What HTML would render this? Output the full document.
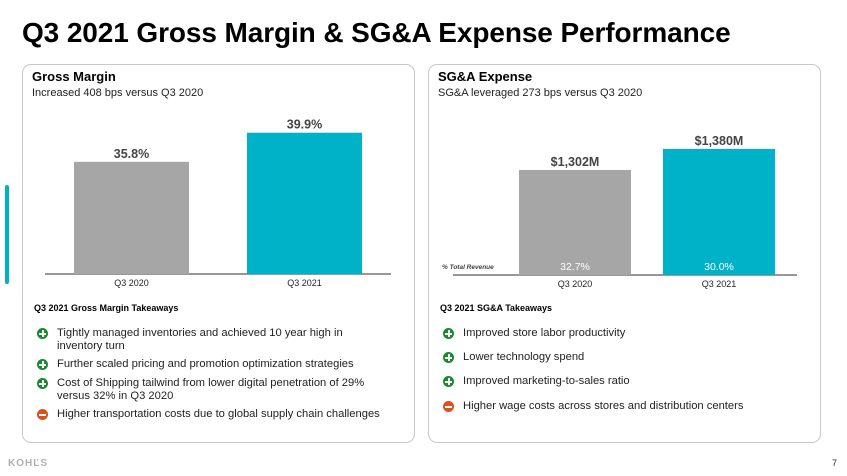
<!DOCTYPE html>
<html><head><meta charset="utf-8"><style>
body{margin:0;width:847px;height:476px;background:#fff;font-family:"Liberation Sans",sans-serif;position:relative;overflow:hidden;color:#000}
.abs{position:absolute}
h1{position:absolute;left:22px;top:17px;margin:0;font-size:28px;font-weight:bold;letter-spacing:-0.1px;white-space:nowrap}
.panel{position:absolute;top:64px;width:393px;height:379px;border:1.5px solid #c8c8c8;border-radius:9px;box-sizing:border-box}
.pt{position:absolute;left:9px;top:4px;font-size:13px;font-weight:bold}
.ps{position:absolute;left:9px;top:22px;font-size:11px;color:#222}
.th{position:absolute;left:11px;top:238px;font-size:9px;font-weight:bold}
.item{position:absolute;left:34px;font-size:11.2px;line-height:13px;color:#222;width:315px}
.ic{position:absolute;left:-20px;top:1px;width:11px;height:11px;border-radius:50%;background:#1a8a2e}
.ic::before{content:"";position:absolute;left:2px;top:4.5px;width:7px;height:2px;background:#fff}
.plus::after{content:"";position:absolute;left:4.5px;top:2px;width:2px;height:7px;background:#fff}
.minus{background:#e04e1c}
svg text{font-family:"Liberation Sans",sans-serif}
</style></head><body>
<h1>Q3 2021 Gross Margin &amp; SG&amp;A Expense Performance</h1>
<div class="abs" style="left:5px;top:185px;width:4px;height:99px;background:#00b2c8;border-radius:2px"></div>

<div class="panel" style="left:22px">
  <div class="pt">Gross Margin</div>
  <div class="ps">Increased 408 bps versus Q3 2020</div>
  <div class="th">Q3 2021 Gross Margin Takeaways</div>
  <div class="item" style="top:262px"><span class="ic plus"></span>Tightly managed inventories and achieved 10 year high in inventory turn</div>
  <div class="item" style="top:293px"><span class="ic plus"></span>Further scaled pricing and promotion optimization strategies</div>
  <div class="item" style="top:312px"><span class="ic plus"></span>Cost of Shipping tailwind from lower digital penetration of 29% versus 32% in Q3 2020</div>
  <div class="item" style="top:343px;width:340px"><span class="ic minus"></span>Higher transportation costs due to global supply chain challenges</div>
</div>

<div class="panel" style="left:428px">
  <div class="pt">SG&amp;A Expense</div>
  <div class="ps">SG&amp;A leveraged 273 bps versus Q3 2020</div>
  <div class="th">Q3 2021 SG&amp;A Takeaways</div>
  <div class="item" style="top:262px"><span class="ic plus"></span>Improved store labor productivity</div>
  <div class="item" style="top:286px"><span class="ic plus"></span>Lower technology spend</div>
  <div class="item" style="top:310px"><span class="ic plus"></span>Improved marketing-to-sales ratio</div>
  <div class="item" style="top:335px;width:340px"><span class="ic minus"></span>Higher wage costs across stores and distribution centers</div>
</div>

<svg class="abs" style="left:0;top:0" width="847" height="476" id="charts"></svg>

<div class="abs" style="left:8px;top:458px;font-size:10px;font-weight:bold;color:#b0b0b0;letter-spacing:1px">KOHĽS</div>
<div class="abs" style="left:832px;top:458px;font-size:9px;color:#333">7</div>

<script>
const gmCategories = ["Q3 2020","Q3 2021"];
const gmValues = [35.8, 39.9];
const gmLabels = ["35.8%","39.9%"];
const sgaCategories = ["Q3 2020","Q3 2021"];
const sgaValues = [1302, 1380];
const sgaLabels = ["$1,302M","$1,380M"];
const sgaPctLabels = ["32.7%","30.0%"];
const colors = ["#a6a6a6","#00b2c8"];

const svg = document.getElementById('charts');
const NS = "http://www.w3.org/2000/svg";
function mk(tag, attrs){const e=document.createElementNS(NS,tag);for(const k in attrs)e.setAttribute(k,attrs[k]);svg.appendChild(e);return e;}

function drawChart(prefix, cats, vals, labels, cfg){
  const base = cfg.base;
  const y = v => base - (v - cfg.min) * cfg.scale;
  const ax = mk('line',{x1:cfg.axX1,x2:cfg.axX2,y1:base,y2:base,stroke:'#777','stroke-width':1.5});
  
  
  vals.forEach((v,i)=>{
    const x = cfg.x0 + i*cfg.step;
    const r = mk('rect',{x:x,y:y(v),width:cfg.bw,height:base-y(v),fill:colors[i]});
    
    
    const t = mk('text',{x:x+cfg.bw/2,y:y(v)-4,'text-anchor':'middle','font-size':12.5,'font-weight':'bold',fill:'#444'});
    t.textContent = labels[i];
    
    
    const c = mk('text',{x:x+cfg.bw/2,y:base+12,'text-anchor':'middle','font-size':9,fill:'#222'});
    c.textContent = cats[i];
    
    
  });
}
drawChart('gm', gmCategories, gmValues, gmLabels, {base:274,min:20,scale:7.1,x0:74,step:173,bw:115,axX1:45,axX2:391});
drawChart('sga', sgaCategories, sgaValues, sgaLabels, {base:275,min:913,scale:0.27,x0:519,step:144,bw:112,axX1:453,axX2:797});

sgaPctLabels.forEach((p,i)=>{
  const t = mk('text',{x:519+i*144+56,y:270,'text-anchor':'middle','font-size':10.5,fill:'#fff'});
  t.textContent = p;
  
  
});
const pl = mk('text',{x:442,y:269,'font-size':6.5,'font-style':'italic','font-weight':'bold',fill:'#444'});
pl.textContent = '% Total Revenue';


</script>
</body></html>
